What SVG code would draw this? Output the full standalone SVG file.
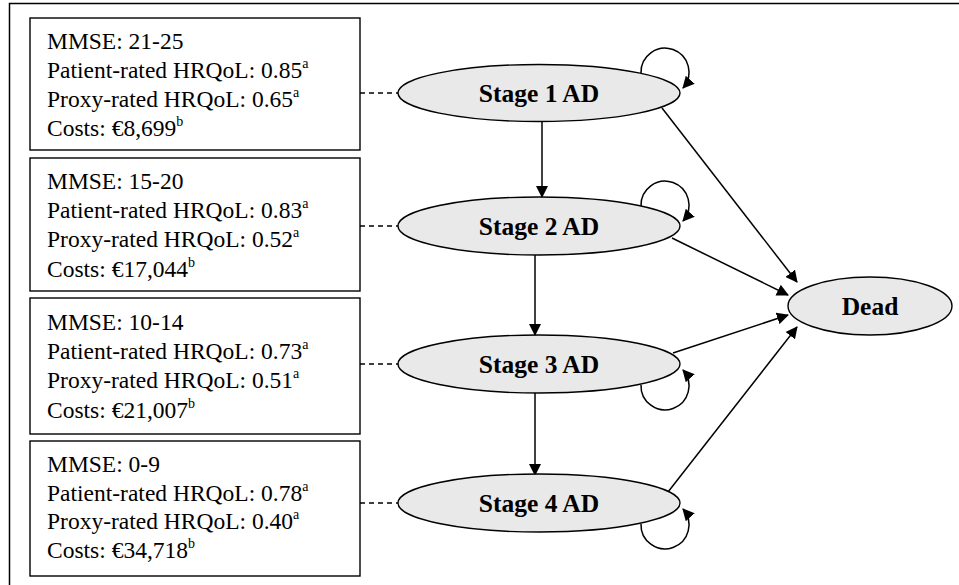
<svg xmlns="http://www.w3.org/2000/svg" width="959" height="585" viewBox="0 0 959 585">
<defs>
<marker id="ah" viewBox="0 0 12 12" markerWidth="12" markerHeight="12" refX="11" refY="6" orient="auto" markerUnits="userSpaceOnUse">
<path d="M0,0 L12,6 L0,12 z" fill="#000"/>
</marker>
<style>
.frame{fill:none;stroke:#000;stroke-width:1.5}
.box{fill:#fff;stroke:#000;stroke-width:1.4}
.bt{font-family:"Liberation Serif","Times New Roman",serif;font-size:23.5px;fill:#000}
.sup{font-size:14px}
.st{fill:#e9e9e9;stroke:#000;stroke-width:1.4}
.sl{font-family:"Liberation Serif","Times New Roman",serif;font-size:25.5px;font-weight:bold;fill:#000;text-anchor:middle}
.dash{fill:none;stroke:#000;stroke-width:1.3;stroke-dasharray:5,4}
.ar{fill:none;stroke:#000;stroke-width:1.5;marker-end:url(#ah)}
</style>
</defs>
<rect class="frame" x="9.5" y="3.5" width="960" height="600"/>

<g id="box1">
<rect class="box" x="30" y="18" width="330" height="132"/>
<text class="bt" x="47" y="48.5">MMSE: 21-25</text>
<text class="bt" x="47" y="77.5">Patient-rated HRQoL: 0.85<tspan class="sup" dy="-10">a</tspan></text>
<text class="bt" x="47" y="106.5">Proxy-rated HRQoL: 0.65<tspan class="sup" dy="-10">a</tspan></text>
<text class="bt" x="47" y="135.5">Costs: €8,699<tspan class="sup" dy="-10">b</tspan></text>
</g>
<g id="box2">
<rect class="box" x="30" y="158" width="330" height="133"/>
<text class="bt" x="47" y="189">MMSE: 15-20</text>
<text class="bt" x="47" y="218">Patient-rated HRQoL: 0.83<tspan class="sup" dy="-10">a</tspan></text>
<text class="bt" x="47" y="247">Proxy-rated HRQoL: 0.52<tspan class="sup" dy="-10">a</tspan></text>
<text class="bt" x="47" y="276.5">Costs: €17,044<tspan class="sup" dy="-10">b</tspan></text>
</g>
<g id="box3">
<rect class="box" x="30" y="298" width="330" height="136"/>
<text class="bt" x="47" y="330">MMSE: 10-14</text>
<text class="bt" x="47" y="359">Patient-rated HRQoL: 0.73<tspan class="sup" dy="-10">a</tspan></text>
<text class="bt" x="47" y="388">Proxy-rated HRQoL: 0.51<tspan class="sup" dy="-10">a</tspan></text>
<text class="bt" x="47" y="417.5">Costs: €21,007<tspan class="sup" dy="-10">b</tspan></text>
</g>
<g id="box4">
<rect class="box" x="30" y="441" width="330" height="135"/>
<text class="bt" x="47" y="471.5">MMSE: 0-9</text>
<text class="bt" x="47" y="500.5">Patient-rated HRQoL: 0.78<tspan class="sup" dy="-10">a</tspan></text>
<text class="bt" x="47" y="529">Proxy-rated HRQoL: 0.40<tspan class="sup" dy="-10">a</tspan></text>
<text class="bt" x="47" y="557.5">Costs: €34,718<tspan class="sup" dy="-10">b</tspan></text>
</g>

<g id="connectors">
<line class="dash" x1="360" y1="93" x2="398" y2="93"/>
<line class="dash" x1="360" y1="226" x2="398" y2="226"/>
<line class="dash" x1="360" y1="364" x2="398" y2="364"/>
<line class="dash" x1="360" y1="503" x2="398" y2="503"/>
<line class="ar" x1="542" y1="121" x2="542" y2="197"/>
<line class="ar" x1="535" y1="255" x2="535" y2="335"/>
<line class="ar" x1="535" y1="393" x2="535" y2="475"/>
<path class="ar" d="M641,73 A24,24 0 1 1 683,88"/>
<path class="ar" d="M641,206 A24,24 0 1 1 683,221"/>
<path class="ar" d="M641,385 A24,24 0 1 0 683,370"/>
<path class="ar" d="M641,524 A24,24 0 1 0 683,509"/>
<line class="ar" x1="662" y1="108" x2="797" y2="282"/>
<line class="ar" x1="672" y1="238" x2="788" y2="295"/>
<line class="ar" x1="673" y1="353" x2="788" y2="315"/>
<line class="ar" x1="668" y1="492" x2="797" y2="327"/>
</g>

<g id="stage1">
<ellipse class="st" cx="539" cy="93" rx="141" ry="28.5"/>
<text class="sl" x="539" y="102">Stage 1 AD</text>
</g>
<g id="stage2">
<ellipse class="st" cx="539" cy="226" rx="141" ry="29"/>
<text class="sl" x="539" y="235">Stage 2 AD</text>
</g>
<g id="stage3">
<ellipse class="st" cx="539" cy="364" rx="141" ry="29"/>
<text class="sl" x="539" y="373">Stage 3 AD</text>
</g>
<g id="stage4">
<ellipse class="st" cx="539" cy="503" rx="141" ry="29"/>
<text class="sl" x="539" y="512">Stage 4 AD</text>
</g>
<g id="dead">
<ellipse class="st" cx="870" cy="306" rx="82" ry="29"/>
<text class="sl" x="870" y="315">Dead</text>
</g>
</svg>
